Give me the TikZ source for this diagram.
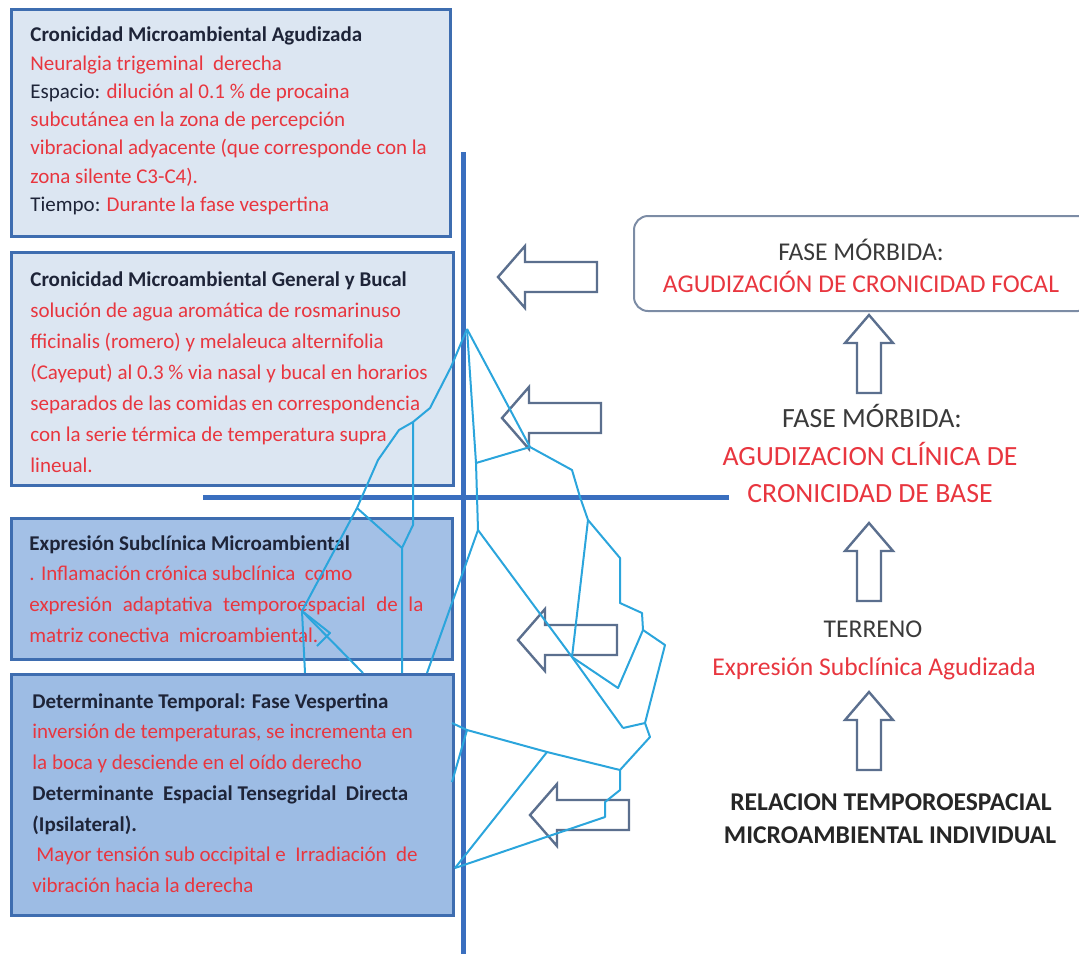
\documentclass[tikz,border=0pt]{standalone}
\usepackage{fontspec}
\setmainfont{Carlito}
\usepackage{xcolor}
\usetikzlibrary{positioning}

\definecolor{boxedge}{HTML}{3E6DB0}
\definecolor{boxpale}{HTML}{DCE6F2}
\definecolor{boxmid}{HTML}{A3C0E6}
\definecolor{boxdeep}{HTML}{9DBCE4}
\definecolor{axisblue}{HTML}{3A6FBF}
\definecolor{netcyan}{HTML}{2BA5DC}
\definecolor{arrowgray}{HTML}{5B6F8E}
\definecolor{txtred}{HTML}{E8363F}
\definecolor{txtdark}{HTML}{1E2438}
\definecolor{txtgray}{HTML}{3A3A3A}

\newcommand{\rojo}[1]{\textcolor{txtred}{#1}}

\tikzset{
    notebox/.style={
        draw=boxedge,
        line width=1.5pt,
        anchor=north west,
        inner sep=0pt
    }
}
\tikzset{
    notetext/.style={
        anchor=west,
        align=left,
        inner sep=0pt,
        text=txtdark
    }
}
\tikzset{
    phasebox/.style={
        draw=arrowgray!80,
        line width=1pt,
        rounded corners=7pt,
        anchor=north west,
        inner sep=0pt
    }
}
\tikzset{
    phasetext/.style={
        anchor=base,
        inner sep=0pt,
        text=txtgray,
        font=\fontsize{12.8}{15}\selectfont
    }
}
\tikzset{
    phasered/.style={
        phasetext,
        text=txtred
    }
}
\tikzset{
    axisline/.style={
        draw=axisblue,
        line width=2.5pt
    }
}
\tikzset{
    netline/.style={
        draw=netcyan,
        line width=1pt,
        line join=round
    }
}
\tikzset{
    arrowline/.style={
        draw=arrowgray,
        line width=1.2pt,
        fill=white
    }
}
\tikzset{
    hollowleft/.pic={
        \draw[arrowline] (0,0) -- (27,31) -- (27,15) -- (99,15) -- (99,-15)
            -- (27,-15) -- (27,-31) -- cycle;
    }
}
\tikzset{
    hollowup/.pic={
        \draw[arrowline] (0,0) -- (24,28) -- (12,28) -- (12,78) -- (-12,78)
            -- (-12,28) -- (-24,28) -- cycle;
    }
}

\begin{document}
\begin{tikzpicture}[x=0.5pt, y=-0.5pt]

\useasboundingbox (0,0) rectangle (1079,954);

% ------------------------------------------------------------
% Left column: microenvironment notes
% ------------------------------------------------------------

\node[notebox, fill=boxpale, minimum width=219.5pt, minimum height=113.5pt] (agudizada) at (10,8) {};
\node[notetext, font=\fontsize{10.5}{14.15}\selectfont] (agudizadaTxt) at (30,121) {%
    \textbf{Cronicidad Microambiental Agudizada}\\
    \rojo{Neuralgia trigeminal\ \ derecha}\\
    Espacio: \rojo{dilución al 0.1 \% de procaina}\\
    \rojo{subcutánea en la zona de percepción}\\
    \rojo{vibracional adyacente (que corresponde con la}\\
    \rojo{zona silente C3-C4).}\\
    Tiempo: \rojo{Durante la fase vespertina}};

\node[notebox, fill=boxpale, minimum width=221pt, minimum height=116.5pt] (bucal) at (10,251) {};
\node[notetext, font=\fontsize{10.5}{15.5}\selectfont] (bucalTxt) at (30,372) {%
    \textbf{Cronicidad Microambiental General y Bucal}\\
    \rojo{solución de agua aromática de rosmarinuso}\\
    \rojo{fficinalis (romero) y melaleuca alternifolia}\\
    \rojo{(Cayeput) al 0.3 \% via nasal y bucal en horarios}\\
    \rojo{separados de las comidas en correspondencia}\\
    \rojo{con la serie térmica de temperatura supra}\\
    \rojo{lineual.}};

\node[notebox, fill=boxmid, minimum width=220.5pt, minimum height=70.5pt] (subclinica) at (10,517) {};
\node[notetext, font=\fontsize{10.5}{15.4}\selectfont] (subclinicaTxt) at (29,589) {%
    \textbf{Expresión Subclínica Microambiental}\\
    \rojo{. Inflamación crónica subclínica\ \ como}\\
    \rojo{\makebox[197pt][s]{expresión adaptativa temporoespacial de la}}\\
    \rojo{matriz conectiva\ \ microambiental.}};

\node[notebox, fill=boxdeep, minimum width=221pt, minimum height=120.5pt] (vespertina) at (10,673) {};
\node[notetext, font=\fontsize{10.5}{15.35}\selectfont] (vespertinaTxt) at (32,793) {%
    \textbf{Determinante Temporal: Fase Vespertina}\\
    \rojo{inversión de temperaturas, se incrementa en}\\
    \rojo{la boca y desciende en el oído derecho}\\
    \textbf{Determinante\ \ Espacial Tensegridal\ \ Directa}\\
    \textbf{(Ipsilateral).}\\
    \rojo{\hspace{2pt}Mayor tensión sub occipital e\ \ Irradiación\ \ de}\\
    \rojo{vibración hacia la derecha}};

% ------------------------------------------------------------
% Axes
% ------------------------------------------------------------

\coordinate (axisTop) at (463,152);
\coordinate (axisBottom) at (463,954);
\coordinate (axisLeft) at (203,497);
\coordinate (axisRight) at (729,497);
\draw[axisline] (axisTop) -- (axisBottom);
\draw[axisline] (axisLeft) -- (axisRight);

% ------------------------------------------------------------
% Right column: morbid phases
% ------------------------------------------------------------

\node[phasebox, minimum width=229pt, minimum height=47.5pt] (focalbox) at (633,215) {};
\node[phasetext] (focalA) at (861,260) {FASE MÓRBIDA:};
\node[phasered] (focalB) at (861,292) {AGUDIZACIÓN DE CRONICIDAD FOCAL};

\node[phasetext, font=\fontsize{13.9}{16}\selectfont] (baseA) at (872,427) {FASE MÓRBIDA:};
\node[phasered, font=\fontsize{13.9}{16}\selectfont] (baseB) at (870,465) {AGUDIZACION CLÍNICA DE};
\node[phasered, font=\fontsize{13.9}{16}\selectfont] (baseC) at (870,502) {CRONICIDAD DE BASE};

\node[phasetext] (terrenoA) at (873,637) {TERRENO};
\node[phasered] (terrenoB) at (874,675) {Expresión Subclínica Agudizada};

\node[phasetext, text=black!85, font=\fontsize{12.8}{15}\selectfont\bfseries] (relacionA) at (891,810) {RELACION TEMPOROESPACIAL};
\node[phasetext, text=black!85, font=\fontsize{12.8}{15}\selectfont\bfseries] (relacionB) at (890,843) {MICROAMBIENTAL INDIVIDUAL};

% hollow arrows
\pic (upA) at (869,315) {hollowup};
\pic (upB) at (869,523) {hollowup};
\pic (upC) at (869,692) {hollowup};

\pic (leftA) at (498,277) {hollowleft};
\pic (leftB) at (502,418) {hollowleft};
\pic (leftC) at (518,640) {hollowleft};
\pic (leftD) at (530,815) {hollowleft};

% ------------------------------------------------------------
% Tensegrity network
% ------------------------------------------------------------

\foreach \n/\px/\py in {
    top/467/329, a1/451/367, a2/430/408, a3/413/422, a4/399/430, a5/378/460,
    a6/357/508, a8/302/611, z1/330/633, z2/317/646, b1/305/673, b2/363/673,
    vr/413/525, vb/402/548, vs/402/673,
    c1/476/463, c2/530/447, c3/478/530, c4/427/673,
    d1/572/470, d2/580/497, d3/588/520, d4/572/657,
    e1/620/558, e2/620/603, e3/642/613, e4/643/630, e5/665/645,
    e6/645/723, e7/618/688, e8/623/728,
    f1/650/737, f2/620/770, f3/620/790, f4/605/802, f5/605/817,
    g1/455/868, g2/467/730, g3/547/752, g4/452/723, g5/452/782} {
    \coordinate (\n) at (\px,\py);
}

\draw[netline] (top) -- (a1) -- (a2) -- (a3) -- (a4) -- (a5) -- (a6) -- (a8) -- (b1);
\draw[netline] (a3) -- (vr) -- (vb) -- (vs);
\draw[netline] (a6) -- (vb);
\draw[netline] (a8) -- (b2);
\draw[netline] (a8) -- (z1) -- (z2);
\draw[netline] (top) -- (c1) -- (c3) -- (c4);
\draw[netline] (top) -- (c2) -- (c1);
\draw[netline] (c2) -- (d1) -- (d2) -- (d3) -- (d4);
\draw[netline] (d3) -- (e1) -- (e2) -- (e3) -- (e4) -- (e5) -- (e6) -- (e8);
\draw[netline] (e4) -- (e7) -- (d4);
\draw[netline] (c3) -- (d4) -- (e8);
\draw[netline] (e6) -- (f1) -- (f2) -- (f3) -- (f4) -- (f5) -- (g1);
\draw[netline] (g4) -- (g2) -- (g3) -- (f2);
\draw[netline] (g5) -- (g2);
\draw[netline] (g1) -- (g3);

\end{tikzpicture}
\end{document}
